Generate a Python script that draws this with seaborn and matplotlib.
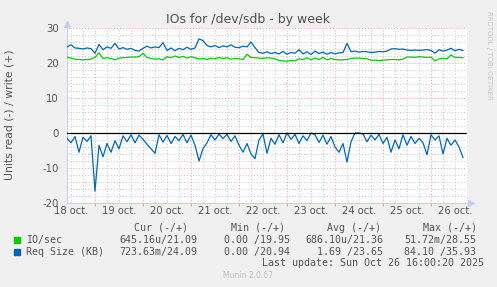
import numpy as np
import pandas as pd
import matplotlib
matplotlib.use("Agg")
import matplotlib.pyplot as plt
from matplotlib.patches import Rectangle
from matplotlib.transforms import blended_transform_factory
import seaborn as sns

# ---------------- data ----------------
# hours since 18 oct 00:00, one sample every 2 hours
hours = list(range(10, 210, 2))

io_write = [21.7, 21.4, 21.1, 21.0, 20.9, 21.0, 21.1, 21.6, 22.9, 21.3,
            21.5, 21.3, 20.9, 21.4, 21.5, 21.6, 21.7, 21.7, 21.8, 22.8,
            21.6, 21.3, 21.1, 21.2, 20.9, 21.8, 21.5, 22.0, 21.6, 21.9,
            21.4, 21.8, 21.5, 21.2, 21.3, 21.0, 21.4, 21.2, 21.6, 21.3,
            21.5, 21.1, 21.3, 21.2, 21.0, 22.5, 21.6, 21.5, 21.4, 21.3,
            21.5, 21.4, 21.2, 20.7, 20.6, 20.5, 20.7, 20.6, 21.2, 21.0,
            21.5, 20.9, 21.4, 21.0, 21.6, 20.9, 21.3, 21.0, 20.9, 20.9,
            21.0, 21.3, 21.4, 21.4, 21.3, 21.2, 20.8, 20.8, 20.7, 20.8,
            20.9, 21.0, 21.0, 20.9, 21.1, 21.7, 21.7, 21.6, 21.8, 21.7,
            21.6, 21.7, 20.6, 21.2, 21.3, 21.2, 22.3, 21.6, 21.6, 21.5]

req_write = [24.6, 25.2, 24.3, 24.2, 24.0, 24.3, 24.1, 22.8, 25.3, 23.8,
             24.6, 24.2, 25.6, 24.0, 24.4, 23.9, 24.2, 23.6, 23.4, 24.2,
             24.8, 24.3, 24.6, 24.4, 25.8, 23.6, 24.3, 23.5, 24.2, 23.8,
             24.5, 23.9, 24.3, 26.9, 26.4, 25.0, 24.6, 25.0, 24.4, 24.9,
             24.6, 25.2, 24.5, 24.4, 24.8, 24.6, 26.0, 24.4, 23.0, 22.8,
             23.2, 22.7, 23.0, 22.6, 23.3, 22.5, 23.0, 22.8, 23.8, 22.6,
             23.2, 22.4, 23.4, 22.7, 23.1, 22.5, 23.0, 22.6, 22.9, 23.0,
             25.6, 23.2, 23.4, 23.1, 23.3, 23.2, 23.0, 23.1, 23.3, 23.2,
             23.4, 24.0, 24.1, 23.9, 24.0, 23.7, 23.6, 23.7, 23.6, 23.7,
             23.8, 23.6, 22.8, 23.8, 23.4, 23.7, 24.2, 23.5, 23.9, 23.6]

req_read = [-1.5, -2.8, -1.0, -5.5, -1.2, -2.4, -0.8, -16.6, -3.5, -6.8,
            -3.0, -5.5, -2.2, -4.5, -0.8, -2.5, -0.5, -2.8, -0.6, -1.8,
            -3.2, -4.5, -5.8, -0.5, -2.6, -0.7, -3.0, -1.0, -2.2, -0.4,
            -2.8, -0.6, -3.5, -8.0, -4.5, -2.8, -0.5, -2.0, -0.3, -1.6,
            -0.4, -2.4, -0.8, -3.5, -5.5, -3.0, -6.0, -7.3, -2.0, -0.3,
            -5.8, -1.5, -3.2, -0.5, -2.8, 0.0, -1.8, -0.4, -3.0, -0.8,
            -2.2, 0.0, -0.5, -2.7, -0.6, -3.2, -1.0, -4.0, -5.5, -3.0,
            -8.3, -2.5, 0.0, 0.0, -0.3, -2.5, -0.6, -2.0, -0.4, -3.0,
            -1.2, -5.5, -2.0, -4.5, -0.5, -3.5, -1.0, -3.0, -1.5, -2.8,
            -6.2, -0.5, -2.0, -0.8, -6.0, -1.5, -3.5, -2.0, -4.0, -7.0]

day_labels = ["18 oct.", "19 oct.", "20 oct.", "21 oct.", "22 oct.",
              "23 oct.", "24 oct.", "25 oct.", "26 oct."]
y_ticks = [-20, -10, 0, 10, 20, 30]

legend_names = ["IO/sec", "Req Size (KB)"]
col_headers = ["Cur (-/+)", "Min (-/+)", "Avg (-/+)", "Max (-/+)"]
io_stats = ["645.16u/21.09", "0.00 /19.95", "686.10u/21.36", "51.72m/28.55"]
req_stats = ["723.63m/24.09", "0.00 /20.94", "1.69 /23.65", "84.10 /35.93"]

# ---------------- figure ----------------
W, H = 497, 287
GREEN = "#00CC00"
BLUE = "#0066B3"
BG = "#F0F0F0"
TXT = "#555555"

fig = plt.figure(figsize=(W / 100, H / 100), dpi=100, facecolor=BG)

def fx(x):
    return x / W

def fy(y):
    return 1 - y / H

left, right, top, bottom = 67, 467, 28, 203
ax = fig.add_axes([fx(left), fy(bottom), (right - left) / W, (bottom - top) / H])
ax.set_facecolor("white")

x0, x1 = 10, 210
ax.set_xlim(x0, x1)
ax.set_ylim(-20, 30)

# grid
for h in range(12, 210, 6):
    if h % 24 != 0:
        ax.axvline(h, color="#c8c8c8", lw=0.7, ls=(0, (1, 2)), zorder=0)
for v in range(-20, 31, 2):
    if v % 10 != 0:
        ax.axhline(v, color="#c8c8c8", lw=0.7, ls=(0, (1, 2)), zorder=0)
for h in range(24, 210, 24):
    ax.axvline(h, color="#e8a0a0", lw=0.7, ls=(0, (1, 2)), zorder=0.5)
for v in y_ticks:
    ax.axhline(v, color="#e8a0a0", lw=0.7, ls=(0, (1, 2)), zorder=0.5)

df = pd.DataFrame({"h": hours, "io_w": io_write, "req_w": req_write, "req_r": req_read})

sns.lineplot(data=df, x="h", y="req_r", color=BLUE, lw=0.9, ax=ax, zorder=3)
sns.lineplot(data=df, x="h", y="req_w", color=BLUE, lw=0.9, ax=ax, zorder=3)
sns.lineplot(data=df, x="h", y="io_w", color=GREEN, lw=0.9, ax=ax, zorder=4)
ax.axhline(0, color="black", lw=0.9, zorder=5)

ax.set_xlabel("")
ax.set_ylabel("")

# spines
for s in ["top", "right"]:
    ax.spines[s].set_visible(False)
ax.spines["left"].set_color("#c8cef0")
ax.spines["bottom"].set_color("#c8cef0")
ax.spines["left"].set_linewidth(0.8)
ax.spines["bottom"].set_linewidth(0.8)

# arrows
ax.plot([0], [1.025], marker="^", color="#c8cef0", ms=4, transform=ax.transAxes, clip_on=False)
ax.plot([1.01], [0], marker=">", color="#c8cef0", ms=4, transform=ax.transAxes, clip_on=False)

# ticks
ax.set_yticks(y_ticks)
ax.set_yticklabels([str(v) for v in y_ticks])
ax.tick_params(axis="y", length=0, pad=6, labelsize=7.3, labelcolor=TXT)
ax.set_xticks(list(range(24, 210, 24)))
ax.set_xticklabels([])
ax.tick_params(axis="x", length=2, color="#e08080", width=0.6)

tr = blended_transform_factory(ax.transData, ax.transAxes)
for i, lab in enumerate(day_labels):
    ax.text(12 + 24 * i, -0.048, lab, transform=tr, ha="center", va="center",
            fontsize=7.2, color=TXT)

# title and y label
fig.text(fx(248.5), fy(20), "IOs for /dev/sdb - by week", ha="center", va="center",
         fontsize=9, color="#505050")
fig.text(fx(10), fy(115), "Units read (-) / write (+)", rotation=90, ha="center",
         va="center", fontsize=7.8, color=TXT)

# watermark
fig.text(fx(489), fy(55), "RRDTOOL / TOBI OETIKER", rotation=270, ha="center", va="center",
         fontsize=5, color="#c8c8c8")
fig.text(fx(248), fy(276), "Munin 2.0.67", ha="center", va="center", fontsize=5.5,
         color="#c0c0c0")

# legend
mono = "DejaVu Sans Mono"
fs = 7.2
hdr_x = [134, 231, 327, 423]
io_x = [119, 224, 305, 404]
req_x = [119, 224, 317, 404]
for t, x in zip(col_headers, hdr_x):
    fig.text(fx(x), fy(228), t, family=mono, fontsize=fs, color=TXT, va="center")
for t, x in zip(io_stats, io_x):
    fig.text(fx(x), fy(240), t, family=mono, fontsize=fs, color=TXT, va="center")
for t, x in zip(req_stats, req_x):
    fig.text(fx(x), fy(252), t, family=mono, fontsize=fs, color=TXT, va="center")
for name, col, y in zip(legend_names, [GREEN, BLUE], [240, 252]):
    fig.add_artist(Rectangle((fx(14), fy(y + 3)), 6 / W, 6 / H, color=col,
                             transform=fig.transFigure))
    fig.text(fx(26), fy(y), name, family=mono, fontsize=fs, color=TXT, va="center")
fig.text(fx(262), fy(263), "Last update: Sun Oct 26 16:00:20 2025", family=mono,
         fontsize=fs, color=TXT, va="center")

fig.savefig("out.png", dpi=100, facecolor=BG)
